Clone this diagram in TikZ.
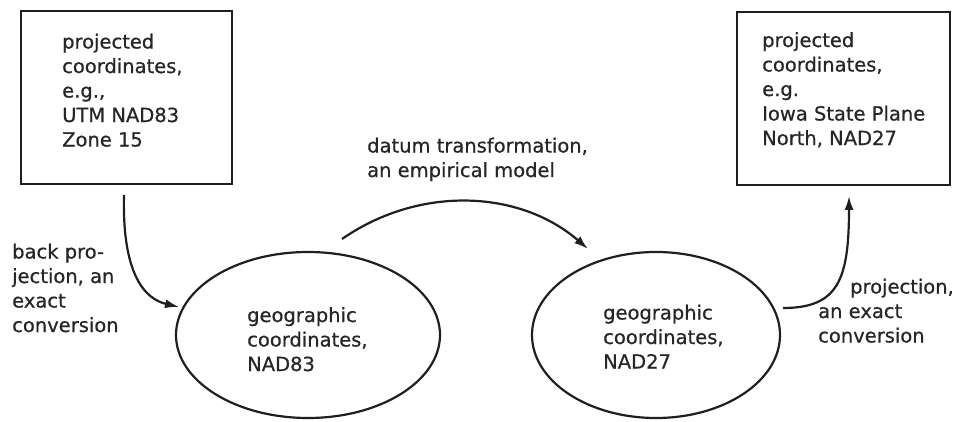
\documentclass[tikz,border=0pt]{standalone}
\usepackage{fontspec}
\setmainfont{DejaVu Sans}
\newfontfamily\lblfont{DejaVu Sans}[FakeBold=0.6]
\usetikzlibrary{shapes.geometric,arrows.meta}
\begin{document}
\begin{tikzpicture}[x=1pt,y=-1pt,
  txt/.style={anchor=north west,inner sep=0pt,align=left,
    font=\lblfont\fontsize{19.5}{24.5}\selectfont,text=black!85},
  boxshape/.style={draw=black!88,line width=2.6pt,rectangle,inner sep=0pt},
  ellshape/.style={draw=black!88,line width=2.2pt,ellipse,inner sep=0pt},
  conn/.style={draw=black!88,line width=2.2pt,-{Latex[length=14pt,width=9pt]}}]
\useasboundingbox (0,0) rectangle (964,422);
% boxes
\node[boxshape,minimum width=211pt,minimum height=173pt] (box1) at (126.5,97.5) {};
\node[boxshape,minimum width=213pt,minimum height=173pt] (box2) at (843.5,98.5) {};
% ellipses
\node[ellshape,minimum width=264pt,minimum height=166pt] (ell1) at (308,335) {};
\node[ellshape,minimum width=248pt,minimum height=166pt] (ell2) at (656,335) {};
% texts
\node[txt] (t1) at (62,33.5) {projected\\coordinates,\\e.g.,\\UTM NAD83\\Zone 15};
\node[txt] (t2) at (762,32) {projected\\coordinates,\\e.g.\\Iowa State Plane\\North, NAD27};
\node[txt] (t3) at (247,307) {geographic\\coordinates,\\NAD83};
\node[txt] (t4) at (603,304.5) {geographic\\coordinates,\\NAD27};
\node[txt] (l1) at (12,243.5) {back pro-\\jection, an\\exact\\conversion};
\node[txt] (l2) at (367,137.5) {datum transformation,\\an empirical model};
\node[txt] (l3) at (818,278.5) {\hspace*{32pt}projection,\\an exact\\conversion};
% connector ends
\coordinate (a1s) at (124,195);
\coordinate (a1e) at (179,307);
\coordinate (a2s) at (342,239);
\coordinate (a2e) at (588,249);
\coordinate (a3s) at (783,308);
\coordinate (a3e) at (849,196);
% connectors
\draw[conn] (a1s) .. controls (122,275) and (145,299) .. (a1e);
\draw[conn] (a2s) .. controls (420,185) and (520,190) .. (a2e);
\draw[conn] (a3s) .. controls (838,308) and (849,280) .. (a3e);
\end{tikzpicture}
\end{document}
